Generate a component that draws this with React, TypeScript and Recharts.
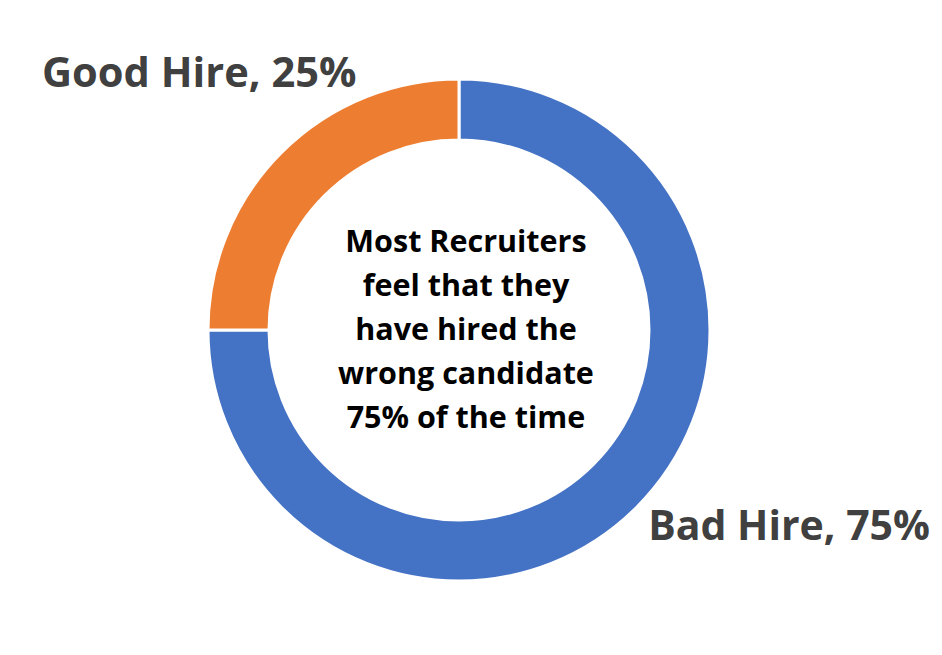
import React from 'react';
import { PieChart, Pie, Cell } from 'recharts';

const categories = ['Bad Hire', 'Good Hire'];
const shares = [75, 25];
const colors = ['#4472C4', '#ED7D31'];
const centerLines = [
  'Most Recruiters',
  'feel that they',
  'have hired the',
  'wrong candidate',
  '75% of the time',
];

const data = categories.map((name, i) => ({ name, value: shares[i] }));

const FONT = "'Open Sans', 'Noto Sans', sans-serif";

export default function App() {
  return (
    <div style={{ position: 'absolute', left: 0, top: 0, width: 942, height: 655, background: '#fff' }}>
      <PieChart width={942} height={655} margin={{ top: 0, right: 0, bottom: 0, left: 0 }}>
        <Pie
          data={data}
          dataKey="value"
          nameKey="name"
          cx={459}
          cy={330}
          innerRadius={190}
          outerRadius={251}
          startAngle={90}
          endAngle={-270}
          stroke="#ffffff"
          strokeWidth={3}
          isAnimationActive={false}
        >
          {data.map((d, i) => (
            <Cell key={d.name} fill={colors[i]} />
          ))}
        </Pie>
      </PieChart>
      <svg
        width={942}
        height={655}
        style={{ position: 'absolute', left: 0, top: 0, pointerEvents: 'none' }}
      >
        <text
          x={42}
          y={87}
          fontFamily={FONT}
          fontWeight={700}
          fontSize={41.6}
          fill="#404040"
        >
          {`${categories[1]}, ${shares[1]}%`}
        </text>
        <text
          x={930}
          y={540}
          textAnchor="end"
          fontFamily={FONT}
          fontWeight={700}
          fontSize={41}
          fill="#404040"
        >
          {`${categories[0]}, ${shares[0]}%`}
        </text>
        {centerLines.map((line, i) => (
          <text
            key={line}
            x={466}
            y={252 + i * 44}
            textAnchor="middle"
            fontFamily={FONT}
            fontWeight={700}
            fontSize={30.5}
            fill="#000000"
          >
            {line}
          </text>
        ))}
      </svg>
    </div>
  );
}
